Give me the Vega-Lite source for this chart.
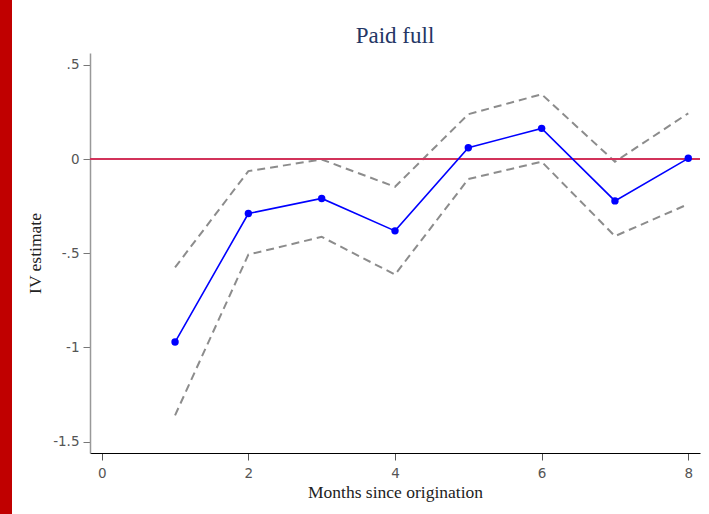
{
  "$schema": "https://vega.github.io/schema/vega-lite/v6.json",
  "padding": 0,
  "autosize": {"type": "pad"},
  "background": "white",
  "spacing": 14,
  "config": {"view": {"stroke": null}},
  "datasets": {
    "est": [
      {"month": 1, "est": -0.971, "lo": -1.360, "hi": -0.575},
      {"month": 2, "est": -0.289, "lo": -0.507, "hi": -0.064},
      {"month": 3, "est": -0.209, "lo": -0.413, "hi": -0.002},
      {"month": 4, "est": -0.381, "lo": -0.613, "hi": -0.147},
      {"month": 5, "est": 0.060, "lo": -0.106, "hi": 0.238},
      {"month": 6, "est": 0.163, "lo": -0.014, "hi": 0.344},
      {"month": 7, "est": -0.222, "lo": -0.409, "hi": -0.014},
      {"month": 8, "est": 0.004, "lo": -0.239, "hi": 0.243}
    ],
    "band": [{"a": 1}],
    "zero": [{"z": 0}]
  },
  "hconcat": [
    {
      "width": 12,
      "height": 514,
      "data": {"name": "band"},
      "view": {"fill": "#c00000", "stroke": null},
      "mark": {"type": "rect", "color": "#c00000"},
      "encoding": {}
    },
    {
      "spacing": 5,
      "vconcat": [
        {
          "width": 610,
          "height": 1,
          "data": {"name": "band"},
          "mark": {"type": "rect", "opacity": 0},
          "encoding": {},
          "title": {
            "text": "Paid full",
            "orient": "bottom",
            "font": "Liberation Serif",
            "fontSize": 23,
            "fontWeight": "normal",
            "color": "#243665",
            "offset": 24,
            "anchor": "middle"
          }
        },
        {
          "width": 610,
          "height": 400,
          "data": {"name": "est"},
          "layer": [
            {
              "mark": {"type": "line", "color": "#8c8c8c", "strokeWidth": 2, "strokeDash": [8, 5]},
              "encoding": {
                "x": {
                  "field": "month",
                  "type": "quantitative",
                  "title": "Months since origination",
                  "scale": {"domain": [-0.16, 8.16], "nice": false, "zero": false},
                  "axis": {
                    "values": [0, 2, 4, 6, 8],
                    "format": "d",
                    "title": "Months since origination",
                    "titleFont": "Liberation Serif",
                    "titleFontSize": 17.5,
                    "titleFontWeight": "normal",
                    "titleColor": "#222222",
                    "titlePadding": 4,
                    "labelFont": "DejaVu Sans",
                    "labelFontSize": 13.5,
                    "labelColor": "#555555",
                    "labelPadding": 6,
                    "labelFlush": false,
                    "domainColor": "#000000",
                    "tickColor": "#555555",
                    "tickSize": 7,
                    "grid": false
                  }
                },
                "y": {
                  "field": "hi",
                  "type": "quantitative",
                  "title": "IV estimate",
                  "scale": {"domain": [-1.56, 0.563], "nice": false, "zero": false},
                  "axis": {
                    "values": [-1.5, -1, -0.5, 0, 0.5],
                    "labelExpr": "replace(toString(datum.value), '0.', '.')",
                    "title": "IV estimate",
                    "titleFont": "Liberation Serif",
                    "titleFontSize": 17.5,
                    "titleFontWeight": "normal",
                    "titleColor": "#222222",
                    "titlePadding": 8,
                    "labelFont": "DejaVu Sans",
                    "labelFontSize": 13.5,
                    "labelColor": "#555555",
                    "labelPadding": 4,
                    "domainColor": "#999999",
                    "domainWidth": 1.5,
                    "tickColor": "#777777",
                    "tickSize": 7,
                    "grid": false
                  }
                }
              }
            },
            {
              "mark": {"type": "line", "color": "#8c8c8c", "strokeWidth": 2, "strokeDash": [8, 5]},
              "encoding": {
                "x": {"field": "month", "type": "quantitative", "title": "Months since origination"},
                "y": {"field": "lo", "type": "quantitative", "title": "IV estimate"}
              }
            },
            {
              "data": {"name": "zero"},
              "mark": {"type": "rule", "color": "#d2335a", "strokeWidth": 2},
              "encoding": {
                "y": {"field": "z", "type": "quantitative", "title": "IV estimate"}
              }
            },
            {
              "mark": {"type": "line", "color": "#0000ff", "strokeWidth": 1.6, "point": {"filled": true, "color": "#0000ff", "size": 55, "opacity": 1}},
              "encoding": {
                "x": {"field": "month", "type": "quantitative", "title": "Months since origination"},
                "y": {"field": "est", "type": "quantitative", "title": "IV estimate"}
              }
            }
          ]
        }
      ]
    }
  ]
}
